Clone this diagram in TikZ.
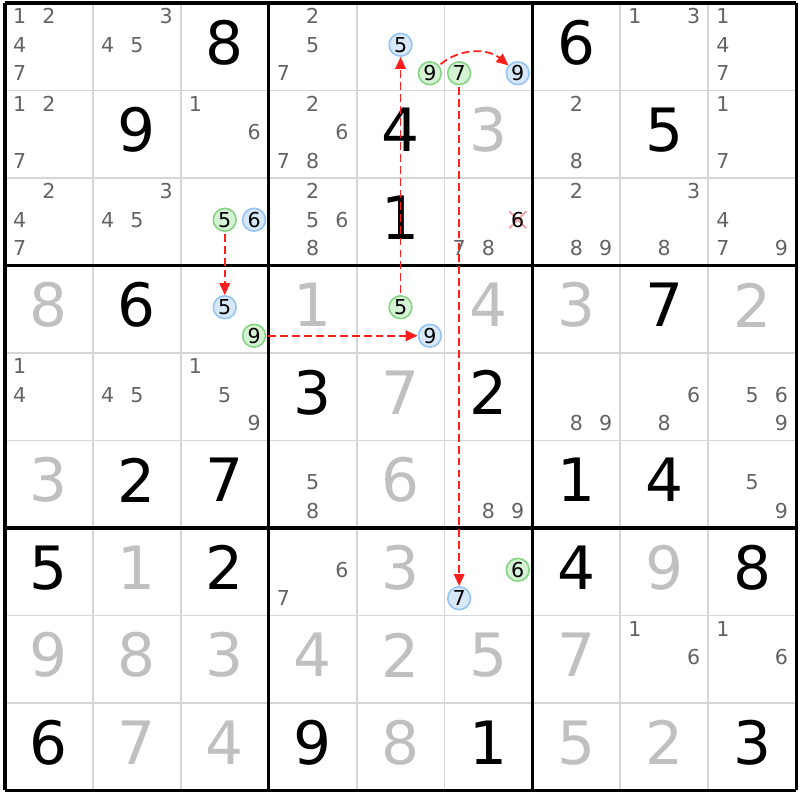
\documentclass[tikz,border=0pt]{standalone}
\usepackage{fontspec}
\setmainfont{DejaVu Sans}
\usetikzlibrary{arrows.meta}

\definecolor{candgray}{HTML}{646464}
\definecolor{solvedgray}{HTML}{C0C0C0}
\definecolor{gridgray}{HTML}{D6D6D6}
\definecolor{onfill}{HTML}{D5F2D5}
\definecolor{ondraw}{HTML}{84D484}
\definecolor{offfill}{HTML}{D6E8FA}
\definecolor{offdraw}{HTML}{96C4F2}
\definecolor{linkred}{HTML}{FF1E1E}
\definecolor{elimpink}{HTML}{F4A4A4}

\begin{document}
\begin{tikzpicture}[x=0.02cm,y=0.02cm,
      every node/.append style={inner sep=0pt},
      given/.style={font=\fontsize{34}{34}\selectfont,text=black},
      solved/.style={font=\fontsize{34}{34}\selectfont,text=solvedgray},
      cand/.style={font=\fontsize{11.7}{12}\selectfont,text=candgray}]
  \tikzstyle{oncand} = [circle,draw=ondraw,fill=onfill,line width=0.9pt,minimum size=13pt,font=\fontsize{11.7}{12}\selectfont,text=black]
  \tikzstyle{offcand} = [circle,draw=offdraw,fill=offfill,line width=0.9pt,minimum size=13pt,font=\fontsize{11.7}{12}\selectfont,text=black]
  \tikzstyle{elim} = [font=\fontsize{11.7}{12}\selectfont,text=black]
  \tikzstyle{xmark} = [draw=elimpink,line width=1.1pt]
  \tikzstyle{link} = [draw=linkred,line width=1pt,dash pattern=on 4.5pt off 2.3pt,shorten <=1pt,-{Triangle[length=6.8pt,width=6pt]}]
  \useasboundingbox[fill=white] (0,0) rectangle (800,800);
  % grid
  \foreach \i in {0,...,9}
    {
    \draw[gridgray,line width=1.1pt] ({5+\i*87.9},9.5) -- ({5+\i*87.9},797);
    \draw[gridgray,line width=1.1pt] (5,{797-\i*87.5}) -- (796.1,{797-\i*87.5});
    }
  \foreach \i in {0,3,6,9}
    {
    \draw[black,line width=1.8pt] ({5+\i*87.9},9.5) -- ({5+\i*87.9},797);
    \draw[black,line width=1.8pt] (5,{797-\i*87.5}) -- (796.1,{797-\i*87.5});
    }
  % cell centres
  \foreach \r in {1,...,9}
    \foreach \c in {1,...,9}
      \coordinate (c-\r-\c) at ({5+(\c-0.5)*87.9},{797-(\r-0.5)*87.5});
  % givens and solved cells
  \foreach \r/\c/\d in {1/3/8, 1/7/6, 2/2/9, 2/5/4, 2/8/5, 3/5/1, 4/2/6, 4/8/7, 5/4/3, 5/6/2,
      6/2/2, 6/3/7, 6/7/1, 6/8/4, 7/1/5, 7/3/2, 7/7/4, 7/9/8, 9/1/6, 9/4/9, 9/6/1, 9/9/3}
    \node[given] (d-\r-\c) at ([yshift=2.3pt]c-\r-\c) {\d};
  \foreach \r/\c/\d in {2/6/3, 4/1/8, 4/4/1, 4/6/4, 4/7/3, 4/9/2, 5/5/7, 6/1/3, 6/5/6,
      7/2/1, 7/5/3, 7/8/9, 8/1/9, 8/2/8, 8/3/3, 8/4/4, 8/5/2, 8/6/5, 8/7/7,
      9/2/7, 9/3/4, 9/5/8, 9/7/5, 9/8/2}
    \node[solved] (d-\r-\c) at ([yshift=2.3pt]c-\r-\c) {\d};
  % pencil marks
  \foreach \r/\c/\ks in {1/1/{1,2,4,7}, 1/2/{3,4,5}, 1/4/{2,5,7}, 1/8/{1,3}, 1/9/{1,4,7},
      2/1/{1,2,7}, 2/3/{1,6}, 2/4/{2,6,7,8}, 2/7/{2,8}, 2/9/{1,7},
      3/1/{2,4,7}, 3/2/{3,4,5}, 3/4/{2,5,6,8}, 3/6/{7,8}, 3/7/{2,8,9}, 3/8/{3,8}, 3/9/{4,7,9},
      5/1/{1,4}, 5/2/{4,5}, 5/3/{1,5,9}, 5/7/{8,9}, 5/8/{6,8}, 5/9/{5,6,9},
      6/4/{5,8}, 6/6/{8,9}, 6/9/{5,9}, 7/4/{6,7}, 8/8/{1,6}, 8/9/{1,6}}
    \foreach \k in \ks
      \node[cand] (k-\r-\c-\k) at ([shift={({(mod(\k-1,3)-1)*29.3},{2-(div(\k-1,3)-1)*28.5})}]c-\r-\c) {\k};
  % eliminated candidate
  \coordinate (x-3-6) at ([shift={(29.3,2)}]c-3-6);
  \draw[xmark] ([shift={(-8.5,8.5)}]x-3-6) -- ([shift={(8.5,-8.5)}]x-3-6)
    ([shift={(-8.5,-8.5)}]x-3-6) -- ([shift={(8.5,8.5)}]x-3-6);
  \node[elim] (k-3-6-6) at (x-3-6) {6};
  % chain candidates
  \foreach \r/\c/\k/\s in {1/5/5/offcand, 1/5/9/oncand, 1/6/7/oncand, 1/6/9/offcand,
      3/3/5/oncand, 3/3/6/offcand, 4/3/5/offcand, 4/3/9/oncand,
      4/5/5/oncand, 4/5/9/offcand, 7/6/7/offcand, 7/6/6/oncand}
    \node[\s] (k-\r-\c-\k) at ([shift={({(mod(\k-1,3)-1)*29.3},{2-(div(\k-1,3)-1)*28.5})}]c-\r-\c) {\k};
  % links
  \draw[link] (k-3-3-5) -- (k-4-3-5);
  \draw[link] (k-4-3-9) -- (k-4-5-9);
  \draw[link] (k-4-5-5) -- (k-1-5-5);
  \draw[link] (k-1-5-9) to[bend left=40] (k-1-6-9);
  \draw[link] (k-1-6-7) -- (k-7-6-7);
\end{tikzpicture}
\end{document}
